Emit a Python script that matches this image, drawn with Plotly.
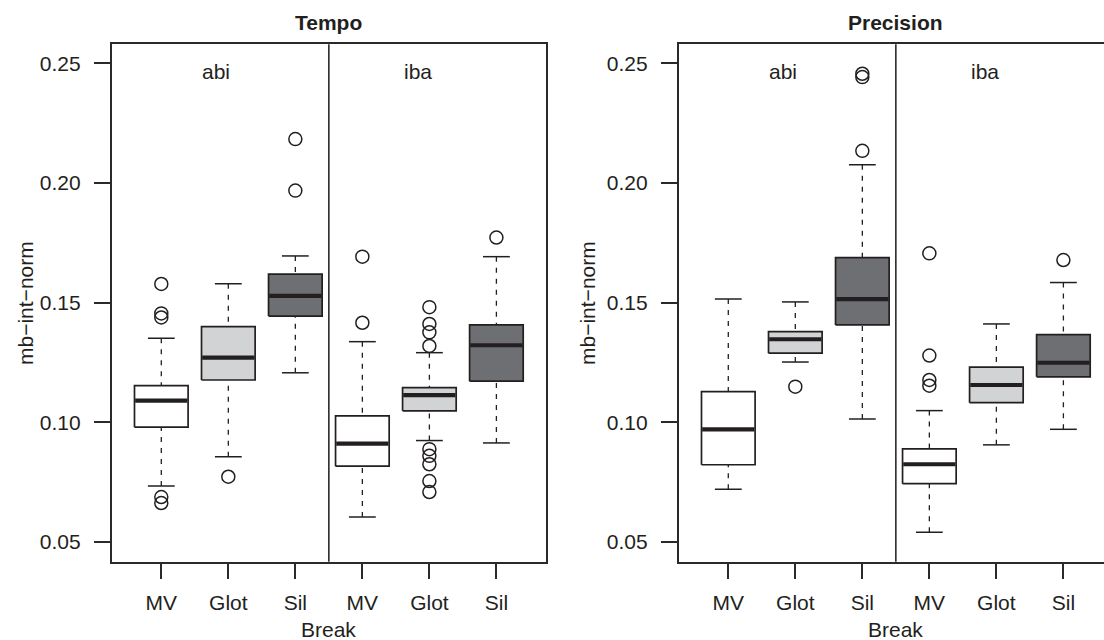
import plotly.graph_objects as go

# ---------------- data ----------------
categories = ["MV", "Glot", "Sil", "MV", "Glot", "Sil"]
groups = ["abi", "iba"]
y_ticks = [0.05, 0.10, 0.15, 0.20, 0.25]
y_tick_labels = ["0.05", "0.10", "0.15", "0.20", "0.25"]

tempo_lower = [0.0734, 0.0856, 0.1207, 0.0605, 0.0924, 0.0914]
tempo_q1 = [0.0980, 0.1177, 0.1444, 0.0817, 0.1048, 0.1172]
tempo_median = [0.1091, 0.1270, 0.1528, 0.0911, 0.1114, 0.1322]
tempo_q3 = [0.1153, 0.1400, 0.1619, 0.1027, 0.1145, 0.1407]
tempo_upper = [0.1351, 0.1579, 0.1695, 0.1337, 0.1291, 0.1692]
tempo_outliers = [
    [0.1578, 0.1455, 0.1438, 0.0688, 0.0663],
    [0.0773],
    [0.2183, 0.1968],
    [0.1692, 0.1416],
    [0.1481, 0.1411, 0.1376, 0.1319, 0.0888, 0.0860, 0.0825, 0.0755, 0.0709],
    [0.1772],
]

precision_lower = [0.0721, 0.1252, 0.1014, 0.0541, 0.0906, 0.0971]
precision_q1 = [0.0823, 0.1289, 0.1407, 0.0744, 0.1082, 0.1190]
precision_median = [0.0971, 0.1347, 0.1515, 0.0825, 0.1156, 0.1249]
precision_q3 = [0.1128, 0.1379, 0.1688, 0.0889, 0.1231, 0.1366]
precision_upper = [0.1515, 0.1503, 0.2076, 0.1049, 0.1411, 0.1584]
precision_outliers = [
    [],
    [0.1149],
    [0.2456, 0.2442, 0.2134],
    [0.1706, 0.1279, 0.1177, 0.1153],
    [],
    [0.1678],
]

# ---------------- style ----------------
INK = "#231f20"
FRAME = "#2a2a2a"
FILLS = ["#ffffff", "#d2d3d5", "#6e6f73"]
FONT = "Liberation Sans, Arial, Helvetica, sans-serif"
FS = 21
BOX_HALF = 0.4
CAP_HALF = 0.2

fig = go.Figure()


def add_panel(xa, ya, lower, q1, med, q3, upper, outliers):
    for i in range(len(categories)):
        p = i + 1
        # dashed whiskers (drawn from cap to box, as R does)
        fig.add_trace(go.Scatter(
            x=[p, p, None, p, p], y=[upper[i], q3[i], None, lower[i], q1[i]],
            mode="lines", line=dict(color=INK, width=1.3, dash="5px,6px"),
            xaxis=xa, yaxis=ya, hoverinfo="skip", showlegend=False))
        # caps
        fig.add_trace(go.Scatter(
            x=[p - CAP_HALF, p + CAP_HALF, None, p - CAP_HALF, p + CAP_HALF],
            y=[upper[i], upper[i], None, lower[i], lower[i]],
            mode="lines", line=dict(color=INK, width=1.5),
            xaxis=xa, yaxis=ya, hoverinfo="skip", showlegend=False))
        # box
        fig.add_trace(go.Scatter(
            x=[p - BOX_HALF, p + BOX_HALF, p + BOX_HALF, p - BOX_HALF, p - BOX_HALF],
            y=[q1[i], q1[i], q3[i], q3[i], q1[i]],
            mode="lines", fill="toself", fillcolor=FILLS[i % 3],
            line=dict(color=INK, width=1.7),
            xaxis=xa, yaxis=ya, hoverinfo="skip", showlegend=False))
        # median
        fig.add_trace(go.Scatter(
            x=[p - BOX_HALF + 0.01, p + BOX_HALF - 0.01], y=[med[i], med[i]],
            mode="lines", line=dict(color=INK, width=4.2),
            xaxis=xa, yaxis=ya, hoverinfo="skip", showlegend=False))
        # outliers
        if outliers[i]:
            fig.add_trace(go.Scatter(
                x=[p] * len(outliers[i]), y=outliers[i], mode="markers",
                marker=dict(symbol="circle-open", size=13,
                            line=dict(color=INK, width=1.5), color=INK),
                xaxis=xa, yaxis=ya, hoverinfo="skip", showlegend=False))


add_panel("x", "y", tempo_lower, tempo_q1, tempo_median, tempo_q3, tempo_upper, tempo_outliers)
add_panel("x2", "y2", precision_lower, precision_q1, precision_median, precision_q3,
          precision_upper, precision_outliers)

W, H = 1104, 640
n = len(categories)
mid = (n + 1) / 2
y_dom = [1 - 561.7 / H, 1 - 44.3 / H]
y_rng = [0.0418, 0.2579]

xbase = dict(
    tickmode="array", tickvals=list(range(1, n + 1)), ticktext=categories,
    ticks="outside", ticklen=15, tickwidth=1.5, tickcolor=FRAME,
    showline=True, linecolor=FRAME, linewidth=1.6,
    showgrid=False, zeroline=False, fixedrange=True,
    tickfont=dict(family=FONT, size=FS, color=INK), ticklabelstandoff=6,
)
ybase = dict(
    tickmode="array", tickvals=y_ticks, ticktext=y_tick_labels,
    ticks="outside", ticklen=16, tickwidth=1.5, tickcolor=FRAME,
    showline=True, linecolor=FRAME, linewidth=1.6,
    showgrid=False, zeroline=False, range=y_rng, domain=y_dom,
    tickfont=dict(family=FONT, size=FS, color=INK), ticklabelstandoff=9,
)

fig.update_layout(
    width=W, height=H, margin=dict(l=0, r=0, t=0, b=0),
    paper_bgcolor="white", plot_bgcolor="white", showlegend=False,
    xaxis=dict(xbase, domain=[111.7 / W, 546 / W], range=[0.26, 6.74], mirror=True, anchor="y"),
    yaxis=dict(ybase, mirror=True, anchor="x"),
    xaxis2=dict(xbase, domain=[678.7 / W, 1.0], range=[0.26, 0.26 + (W - 678.7) / 67.02],
                mirror=True, anchor="y2"),
    yaxis2=dict(ybase, mirror=False, anchor="x2"),
)

# divider between groups
for xr, yr in (("x", "y domain"), ("x2", "y2 domain")):
    fig.add_shape(type="line", xref=xr, yref=yr, x0=mid, x1=mid, y0=0, y1=1,
                  line=dict(color=FRAME, width=1.6))

annots = []
for xr, yr, title in (("x", "y", "Tempo"), ("x2", "y2", "Precision")):
    annots.append(dict(text=f"<b>{title}</b>", xref=xr, yref="paper", x=mid, y=1 - 22 / H,
                       showarrow=False, xanchor="center", yanchor="middle",
                       font=dict(family=FONT, size=FS, color=INK)))
    annots.append(dict(text="Break", xref=xr, yref="paper", x=mid, y=1 - 629 / H,
                       showarrow=False, xanchor="center", yanchor="middle",
                       font=dict(family=FONT, size=FS, color=INK)))
    for gi, g in enumerate(groups):
        annots.append(dict(text=g, xref=xr, yref=yr, x=1.82 + 3.01 * gi, y=0.2464,
                           showarrow=False, xanchor="center", yanchor="middle",
                           font=dict(family=FONT, size=FS, color=INK)))
for px in (25, 587):
    annots.append(dict(text="mb\u2212int\u2212norm", xref="paper", yref="paper",
                       x=px / W, y=1 - 303 / H, textangle=-90, showarrow=False,
                       xanchor="center", yanchor="middle",
                       font=dict(family=FONT, size=FS, color=INK)))
fig.update_layout(annotations=annots)

fig.write_html("out.html")
